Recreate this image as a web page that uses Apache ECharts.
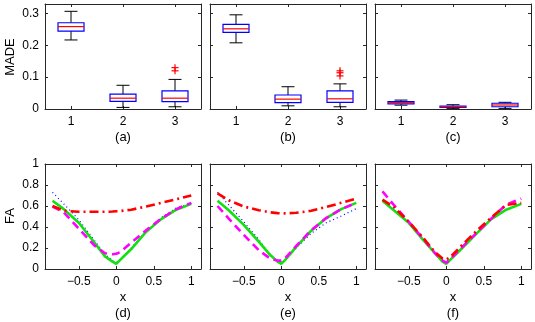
<!DOCTYPE html>
<html>
<head>
<meta charset="utf-8">
<script src="https://cdn.jsdelivr.net/npm/echarts@6/dist/echarts.min.js"></script>
<style>
  html, body { margin: 0; padding: 0; background: #fff; }
  #chart { width: 535px; height: 322px; }
</style>
</head>
<body>
<div id="chart"></div>
<script>
// box stats: [low whisker, q1, median, q3, high whisker] for categories 1..3
const cats = [1, 2, 3];
const madeA = [[0.217, 0.245, 0.259, 0.271, 0.307], [0.005, 0.024, 0.034, 0.047, 0.0745], [0.007, 0.023, 0.034, 0.057, 0.093]];
const madeB = [[0.208, 0.241, 0.252, 0.266, 0.296], [0.010, 0.020, 0.031, 0.044, 0.070], [0.007, 0.021, 0.032, 0.057, 0.079]];
const madeC = [[0.012, 0.016, 0.020, 0.023, 0.028], [0.002, 0.005, 0.007, 0.0095, 0.0135], [0.002, 0.007, 0.0126, 0.018, 0.021]];
const outA = [[3, 0.12], [3, 0.13]];
const outB = [[3, 0.104], [3, 0.114], [3, 0.12]];
const outC = [];
const madeTicks = [0, 0.1, 0.2, 0.3];

// FA curves
const xs = [-0.85, -0.7, -0.5, -0.3, -0.15, -0.05, 0, 0.05, 0.2, 0.4, 0.6, 0.8, 1.0];
const greenD = [0.65, 0.57, 0.44, 0.26, 0.12, 0.07, 0.05, 0.085, 0.19, 0.355, 0.475, 0.565, 0.62];
const redD = [0.60, 0.555, 0.545, 0.545, 0.545, 0.547, 0.55, 0.552, 0.565, 0.595, 0.63, 0.665, 0.70];
const magD = [0.595, 0.54, 0.385, 0.23, 0.15, 0.14, 0.145, 0.16, 0.25, 0.37, 0.48, 0.57, 0.63];
const blueD = [0.73, 0.62, 0.47, 0.28, 0.14, 0.08, 0.06, 0.09, 0.2, 0.36, 0.49, 0.58, 0.625];

const greenE = [0.65, 0.56, 0.42, 0.26, 0.135, 0.07, 0.05, 0.085, 0.21, 0.365, 0.485, 0.57, 0.63];
const redE = [0.72, 0.655, 0.595, 0.56, 0.54, 0.532, 0.53, 0.53, 0.535, 0.555, 0.59, 0.63, 0.67];
const magE = [0.60, 0.48, 0.325, 0.18, 0.10, 0.08, 0.08, 0.10, 0.22, 0.37, 0.485, 0.57, 0.63];
const blueE = [0.73, 0.61, 0.45, 0.28, 0.14, 0.075, 0.055, 0.08, 0.2, 0.34, 0.44, 0.505, 0.575];

const greenF = [0.65, 0.56, 0.44, 0.27, 0.15, 0.07, 0.05, 0.085, 0.19, 0.335, 0.475, 0.565, 0.62];
const redF = [0.66, 0.59, 0.45, 0.29, 0.16, 0.10, 0.09, 0.11, 0.22, 0.36, 0.49, 0.61, 0.63];
const magF = [0.74, 0.61, 0.45, 0.28, 0.15, 0.08, 0.06, 0.09, 0.2, 0.34, 0.48, 0.615, 0.67];
const blueF = [0.65, 0.56, 0.44, 0.27, 0.15, 0.07, 0.05, 0.085, 0.19, 0.335, 0.475, 0.565, 0.62];

const xTicks = [-0.5, 0, 0.5, 1];

const FONT = "'Liberation Sans', Arial, sans-serif";
const AX = "#262626";
const lefts = [45, 210, 375];

const chart = echarts.init(document.getElementById("chart"));

const grids = [];
const xAxes = [];
const yAxes = [];
const series = [];

const lineAxis = (extra) => Object.assign({
  axisLine: { show: true, onZero: false, lineStyle: { color: AX, width: 1 } },
  axisTick: { show: true, inside: true, length: 3, lineStyle: { color: AX } },
  splitLine: { show: false },
}, extra);

// grid helper: adds 2 x axes (bottom/top) and 2 y axes (left/right)
const addGrid = (left, top, xopt, yopt, showY) => {
  const gi = grids.length;
  grids.push({ left: left, top: top, width: 156, height: 105 });
  const xi = xAxes.length;
  xAxes.push(lineAxis(Object.assign({ gridIndex: gi, position: "bottom" }, xopt.bottom)));
  xAxes.push(lineAxis(Object.assign({ gridIndex: gi, position: "top" }, xopt.top)));
  const yi = yAxes.length;
  yAxes.push(lineAxis(Object.assign({ gridIndex: gi, position: "left" }, yopt.left(showY))));
  yAxes.push(lineAxis(Object.assign({ gridIndex: gi, position: "right" }, yopt.right)));
  return { xi, yi };
};

const fmtMinus = (v) => (v < 0 ? "\u2212" + Math.abs(v) : String(v));
const tick = (vals) => ({ show: true, inside: true, length: 3, lineStyle: { color: AX }, customValues: vals });

// ---------- top row: boxplots ----------
const boxX = {
  bottom: {
    type: "value", min: 0.5, max: 3.5, axisTick: tick(cats),
    axisLabel: { customValues: cats, color: "#000", fontFamily: FONT, fontSize: 12, margin: 7 },
  },
  top: {
    type: "value", min: 0.5, max: 3.5, axisTick: tick(cats),
    axisLabel: { show: false, customValues: cats },
  },
};
const boxY = {
  left: (show) => ({
    type: "value", min: 0, max: 0.33, axisTick: tick(madeTicks),
    axisLabel: { show: show, customValues: madeTicks, color: "#000", fontFamily: FONT, fontSize: 12, margin: 6 },
  }),
  right: {
    type: "value", min: 0, max: 0.33, axisTick: tick(madeTicks),
    axisLabel: { show: false, customValues: madeTicks },
  },
};

const renderBox = (params, api) => {
  const x = api.value(0);
  const lo = api.coord([x, api.value(1)]);
  const q1 = api.coord([x, api.value(2)]);
  const md = api.coord([x, api.value(3)]);
  const q3 = api.coord([x, api.value(4)]);
  const hi = api.coord([x, api.value(5)]);
  const hw = api.size([0.5, 0])[0] / 2;
  const cw = api.size([0.25, 0])[0] / 2;
  const cx = lo[0];
  const black = { stroke: "#000", lineWidth: 1 };
  return {
    type: "group",
    children: [
      { type: "line", shape: { x1: cx, y1: hi[1], x2: cx, y2: q3[1] }, style: black },
      { type: "line", shape: { x1: cx, y1: q1[1], x2: cx, y2: lo[1] }, style: black },
      { type: "line", shape: { x1: cx - cw, y1: hi[1], x2: cx + cw, y2: hi[1] }, style: black },
      { type: "line", shape: { x1: cx - cw, y1: lo[1], x2: cx + cw, y2: lo[1] }, style: black },
      { type: "rect", shape: { x: cx - hw, y: q3[1], width: 2 * hw, height: q1[1] - q3[1] },
        style: { fill: "#fff", stroke: "#0000ff", lineWidth: 1.2 } },
      { type: "line", shape: { x1: cx - hw, y1: md[1], x2: cx + hw, y2: md[1] },
        style: { stroke: "#ff0000", lineWidth: 1.2 } },
    ],
  };
};

const renderPlus = (params, api) => {
  const p = api.coord([api.value(0), api.value(1)]);
  const s = 3.5;
  const st = { stroke: "#ff0000", lineWidth: 1.2 };
  return {
    type: "group",
    children: [
      { type: "line", shape: { x1: p[0] - s, y1: p[1], x2: p[0] + s, y2: p[1] }, style: st },
      { type: "line", shape: { x1: p[0], y1: p[1] - s, x2: p[0], y2: p[1] + s }, style: st },
    ],
  };
};

[[madeA, outA], [madeB, outB], [madeC, outC]].forEach(([stats, outs], i) => {
  const { xi, yi } = addGrid(lefts[i], 4, boxX, boxY, i === 0);
  series.push({
    type: "custom", xAxisIndex: xi, yAxisIndex: yi, renderItem: renderBox,
    data: stats.map((s, k) => [cats[k]].concat(s)), silent: true,
  });
  series.push({
    type: "custom", xAxisIndex: xi, yAxisIndex: yi, renderItem: renderPlus,
    data: outs, silent: true, z: 5,
  });
});

// ---------- bottom row: FA curves ----------
const lineX = {
  bottom: {
    type: "value", min: -0.95, max: 1.13, axisTick: tick(xTicks),
    axisLabel: { customValues: xTicks, formatter: fmtMinus, color: "#000", fontFamily: FONT, fontSize: 12, margin: 7 },
  },
  top: {
    type: "value", min: -0.95, max: 1.13, axisTick: tick(xTicks),
    axisLabel: { show: false, customValues: xTicks },
  },
};
const lineY = {
  left: (show) => ({
    type: "value", min: 0, max: 1, interval: 0.2,
    axisLabel: { show: show, color: "#000", fontFamily: FONT, fontSize: 12, margin: 6 },
  }),
  right: {
    type: "value", min: 0, max: 1, interval: 0.2,
    axisLabel: { show: false },
  },
};

const pair = (ys) => xs.map((x, k) => [x, ys[k]]);

[[blueD, greenD, magD, redD], [blueE, greenE, magE, redE], [blueF, greenF, magF, redF]].forEach((set, i) => {
  const { xi, yi } = addGrid(lefts[i], 164, lineX, lineY, i === 0);
  const base = { type: "line", xAxisIndex: xi, yAxisIndex: yi, showSymbol: false, symbol: "none", silent: true, animation: false };
  series.push(Object.assign({}, base, { data: pair(set[0]), lineStyle: { color: "#0000ff", width: 1.2, type: [1, 3] } }));
  series.push(Object.assign({}, base, { data: pair(set[1]), lineStyle: { color: "#11e011", width: 2.6, type: "solid" } }));
  series.push(Object.assign({}, base, { data: pair(set[2]), lineStyle: { color: "#ff00ff", width: 2.6, type: [8, 5] } }));
  series.push(Object.assign({}, base, { data: pair(set[3]), lineStyle: { color: "#ff0000", width: 2.6, type: [9, 4, 2, 4] } }));
});

const txt = (x, y, t, rot) => ({
  type: "text", x: x, y: y, rotation: rot || 0,
  style: { text: t, fill: "#000", font: "13px " + FONT, textAlign: "center", textVerticalAlign: "middle" },
});

const graphic = [
  txt(10, 57, "MADE", Math.PI / 2),
  txt(10, 216, "FA", Math.PI / 2),
];
["(a)", "(b)", "(c)"].forEach((t, i) => graphic.push(txt(lefts[i] + 78, 137, t)));
["(d)", "(e)", "(f)"].forEach((t, i) => {
  graphic.push(txt(lefts[i] + 78, 297, "x"));
  graphic.push(txt(lefts[i] + 78, 313, t));
});

chart.setOption({
  animation: false,
  grid: grids,
  xAxis: xAxes,
  yAxis: yAxes,
  series: series,
  graphic: graphic,
});
</script>
</body>
</html>
